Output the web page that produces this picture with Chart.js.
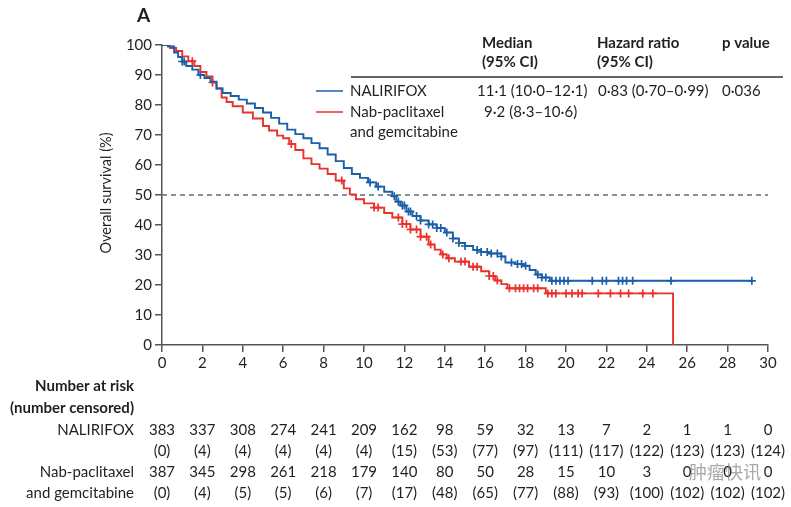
<!DOCTYPE html>
<html>
<head>
<meta charset="utf-8">
<script src="https://cdn.jsdelivr.net/npm/chart.js@4.4.0/dist/chart.umd.min.js"></script>
<style>
  html, body { margin: 0; padding: 0; background: #fff; }
</style>
</head>
<body>
<canvas id="kmChart" width="791" height="507"></canvas>
<script>
// Kaplan-Meier steps (months, % surviving after the step)
const nalTime = [0, 0.3, 0.6, 0.8, 1.0, 1.2, 1.5, 1.8, 2.1, 2.4, 2.7, 3.0, 3.4, 3.8, 4.2, 4.6, 5.0, 5.4, 5.8, 6.2, 6.6, 7.0, 7.4, 7.8, 8.2, 8.6, 9.0, 9.4, 9.8, 10.2, 10.6, 11.0, 11.4, 11.6, 11.8, 12.1, 12.4, 12.8, 13.2, 13.6, 14.0, 14.4, 14.7, 15.0, 15.4, 15.8, 16.2, 16.8, 17.0, 17.5, 17.9, 18.2, 18.5, 18.8, 19.2, 29.2];
const nalSurv = [100, 99.5, 97.5, 96, 94.5, 93, 91.8, 90, 89, 87.8, 85.5, 84, 83, 81.8, 80.5, 79, 77.5, 75.7, 73.8, 71.8, 70.3, 68.9, 67.3, 65.6, 63.5, 61.3, 59, 57, 55.7, 54.2, 52.8, 51.1, 49.6, 47.8, 46.5, 44.5, 43, 41.5, 40.2, 39, 37.5, 35.5, 34, 33, 31.7, 31, 30.5, 29.5, 27.5, 27, 26.4, 25, 23.5, 22.5, 21.4, 21.4];

const nabTime = [0, 0.4, 0.7, 1.0, 1.3, 1.6, 1.9, 2.2, 2.5, 2.7, 2.95, 3.2, 3.5, 4.0, 4.5, 5.0, 5.3, 5.7, 6.0, 6.3, 6.6, 7.0, 7.4, 7.8, 8.2, 8.6, 9.0, 9.3, 9.6, 10.0, 10.5, 11.0, 11.4, 11.9, 12.3, 12.8, 13.2, 13.5, 13.8, 14.1, 14.5, 15.2, 15.8, 16.2, 16.5, 16.8, 17.1, 19.0, 25.3];
const nabSurv = [100, 99, 98, 96.2, 94.6, 93, 91, 89.5, 87.5, 85.5, 82.5, 81, 79.6, 77.5, 75.5, 73, 71.5, 69.8, 68.9, 67, 65, 62.2, 60.3, 58.8, 57, 54.8, 52.2, 50.2, 48.6, 47.2, 45.8, 44, 42.5, 40.3, 38.5, 36.1, 33.5, 31.8, 30.2, 28.9, 27.8, 26.1, 24.6, 23, 21.5, 20.3, 18.9, 17.2, 0];

// censoring times (months)
const nalCensor = [1.0, 1.1, 1.9, 10.3, 10.7, 11.5, 11.7, 11.9, 12.0, 12.2, 12.3, 12.6, 12.8, 13.2, 13.4, 13.6, 13.8, 14.1, 14.4, 14.7, 15.0, 15.6, 15.8, 16.1, 16.3, 16.6, 16.8, 17.3, 17.6, 17.8, 18.0, 18.6, 18.8, 19.0, 19.3, 19.5, 19.7, 19.9, 20.1, 21.3, 21.8, 22.0, 22.6, 22.8, 23.0, 23.3, 25.2, 29.2];
const nabCensor = [1.5, 2.5, 6.4, 8.9, 10.5, 10.7, 11.7, 11.9, 12.1, 12.3, 12.6, 12.8, 13.1, 13.3, 13.9, 14.2, 14.8, 15.0, 15.4, 15.6, 16.2, 16.4, 16.6, 17.2, 17.5, 17.7, 17.9, 18.1, 18.4, 18.6, 19.1, 19.3, 19.5, 20.0, 20.3, 20.6, 20.8, 21.6, 22.2, 22.7, 23.1, 23.8, 24.3];

// number at risk table
const riskTimes = [0, 2, 4, 6, 8, 10, 12, 14, 16, 18, 20, 22, 24, 26, 28, 30];
const nalRisk = [383, 337, 308, 274, 241, 209, 162, 98, 59, 32, 13, 7, 2, 1, 1, 0];
const nalCensored = [0, 4, 4, 4, 4, 4, 15, 53, 77, 97, 111, 117, 122, 123, 123, 124];
const nabRisk = [387, 345, 298, 261, 218, 179, 140, 80, 50, 28, 15, 10, 3, 0, 0, 0];
const nabCensored = [0, 4, 5, 5, 6, 7, 17, 48, 65, 77, 88, 93, 100, 102, 102, 102];

const BLUE = '#1b5fa8';
const RED = '#e8322b';
const INK = '#231f20';
const FONT = 'Lato, "Open Sans", sans-serif';

function survAt(times, surv, t) {
  let s = surv[0];
  for (let i = 0; i < times.length; i++) {
    if (times[i] <= t) s = surv[i];
  }
  return s;
}

const tablePlugin = {
  id: 'kmText',
  afterDraw(chart) {
    const ctx = chart.ctx;
    const xs = chart.scales.x;
    ctx.save();
    ctx.fillStyle = INK;
    ctx.textBaseline = 'middle';

    // panel letter
    ctx.font = 'bold 19px ' + FONT;
    ctx.textAlign = 'left';
    ctx.fillText('A', 137, 16);

    // y title
    ctx.save();
    ctx.translate(106, 193);
    ctx.rotate(-Math.PI / 2);
    ctx.textAlign = 'center';
    ctx.font = '14.5px ' + FONT;
    ctx.fillText('Overall survival (%)', 0, 0);
    ctx.restore();

    // legend table
    ctx.font = 'bold 15px ' + FONT;
    ctx.textAlign = 'left';
    ctx.fillText('Median', 482, 43);
    ctx.fillText('(95% CI)', 482, 62);
    ctx.fillText('Hazard ratio', 597, 43);
    ctx.fillText('(95% CI)', 597, 62);
    ctx.fillText('p value', 722, 43);

    ctx.strokeStyle = '#666';
    ctx.lineWidth = 2;
    ctx.beginPath();
    ctx.moveTo(351, 77);
    ctx.lineTo(783, 77);
    ctx.stroke();

    ctx.lineWidth = 1.5;
    ctx.strokeStyle = BLUE;
    ctx.beginPath(); ctx.moveTo(316, 91); ctx.lineTo(343, 91); ctx.stroke();
    ctx.strokeStyle = RED;
    ctx.beginPath(); ctx.moveTo(316, 112); ctx.lineTo(343, 112); ctx.stroke();

    ctx.font = '15px ' + FONT;
    ctx.fillText('NALIRIFOX', 350, 91);
    ctx.fillText('Nab-paclitaxel', 350, 112);
    ctx.fillText('and gemcitabine', 350, 132);
    ctx.fillText('11·1 (10·0–12·1)', 477, 91);
    ctx.fillText('9·2 (8·3–10·6)', 484, 112);
    ctx.fillText('0·83 (0·70–0·99)', 598, 91);
    ctx.fillText('0·036', 722, 91);

    // number at risk
    ctx.textAlign = 'right';
    ctx.font = 'bold 15px ' + FONT;
    ctx.fillText('Number at risk', 134, 386);
    ctx.fillText('(number censored)', 134, 408);
    ctx.font = '15px ' + FONT;
    ctx.fillText('NALIRIFOX', 134, 430);
    ctx.fillText('Nab-paclitaxel', 134, 472);
    ctx.fillText('and gemcitabine', 134, 493);

    ctx.textAlign = 'center';
    riskTimes.forEach((t, i) => {
      const px = xs.getPixelForValue(t);
      ctx.fillText(String(nalRisk[i]), px, 430);
      ctx.fillText('(' + nalCensored[i] + ')', px, 451);
      ctx.fillText(String(nabRisk[i]), px, 472);
      ctx.fillText('(' + nabCensored[i] + ')', px, 493);
    });

    // watermark
    ctx.textAlign = 'left';
    ctx.fillStyle = 'rgba(110,110,110,0.6)';
    ctx.font = '18px "Noto Sans CJK SC", sans-serif';
    ctx.fillText('肿瘤快讯', 689, 472);
    ctx.restore();
  }
};

const ctx = document.getElementById('kmChart');
new Chart(ctx, {
  type: 'line',
  data: {
    datasets: [
      {
        label: 'NALIRIFOX',
        data: nalTime.map((t, i) => ({ x: t, y: nalSurv[i] })),
        stepped: true,
        borderColor: BLUE,
        borderWidth: 1.9,
        pointRadius: 0,
        fill: false
      },
      {
        label: 'Nab-paclitaxel and gemcitabine',
        data: nabTime.map((t, i) => ({ x: t, y: nabSurv[i] })),
        stepped: true,
        borderColor: RED,
        borderWidth: 1.9,
        pointRadius: 0,
        fill: false
      },
      {
        label: 'NALIRIFOX censored',
        data: nalCensor.map(t => ({ x: t, y: survAt(nalTime, nalSurv, t) })),
        showLine: false,
        pointStyle: 'cross',
        pointRadius: 4,
        pointBorderWidth: 1.7,
        borderColor: BLUE,
        pointBorderColor: BLUE
      },
      {
        label: 'Nab censored',
        data: nabCensor.map(t => ({ x: t, y: survAt(nabTime, nabSurv, t) })),
        showLine: false,
        pointStyle: 'cross',
        pointRadius: 4,
        pointBorderWidth: 1.7,
        borderColor: RED,
        pointBorderColor: RED
      },
      {
        label: 'median',
        data: [{ x: 0, y: 50 }, { x: 30, y: 50 }],
        borderColor: '#5b6f7b',
        borderWidth: 1.6,
        borderDash: [5, 4],
        pointRadius: 0
      }
    ]
  },
  options: {
    responsive: false,
    animation: false,
    layout: { padding: { left: 0, top: 45, right: 23, bottom: 132 } },
    plugins: { legend: { display: false }, tooltip: { enabled: false } },
    scales: {
      x: {
        type: 'linear',
        min: 0,
        max: 30,
        afterFit: s => { s.height = 30; },
        ticks: { stepSize: 2, color: INK, font: { family: FONT, size: 15 }, padding: 2, maxRotation: 0 },
        grid: { drawOnChartArea: false, drawTicks: true, tickLength: 7, color: '#555', lineWidth: 1.5 },
        border: { color: '#555', width: 1.5 }
      },
      y: {
        min: 0,
        max: 100,
        afterFit: s => { s.width = 162; },
        ticks: { stepSize: 10, color: INK, font: { family: FONT, size: 15 }, padding: 3 },
        grid: { drawOnChartArea: false, drawTicks: true, tickLength: 7, color: '#555', lineWidth: 1.5 },
        border: { color: '#555', width: 1.5 }
      }
    }
  },
  plugins: [tablePlugin]
});
</script>
</body>
</html>
